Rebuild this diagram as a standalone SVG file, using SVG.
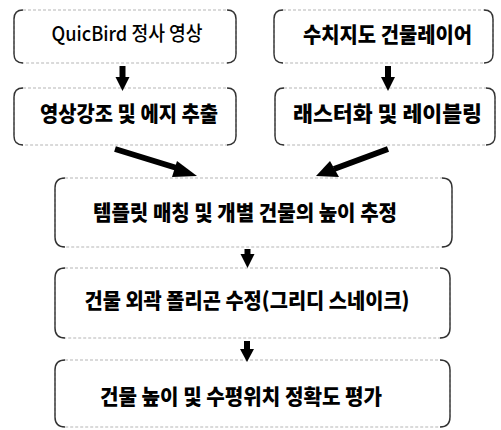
<svg xmlns="http://www.w3.org/2000/svg" width="501" height="430" viewBox="0 0 501 430">
<style>
.frame{fill:none;stroke:#b5b5b5;stroke-width:1;stroke-dasharray:3 2}
.side{fill:none;stroke:#333;stroke-width:1.4}
.t{font-family:"Noto Sans CJK KR","Noto Sans",sans-serif;font-weight:900;font-size:21px;fill:#000;text-anchor:middle}
.tn{font-weight:500;font-size:20px}
.arr{stroke:#000;stroke-width:6;fill:none}
.head{fill:#000}
</style>
<rect width="501" height="430" fill="#fff"/>
<g id="n1">
<rect class="frame" x="14" y="10" width="222" height="53" rx="9"/>
<path class="side" d="M23,10 Q14,10 14,19 V54 Q14,63 23,63 M227,10 Q236,10 236,19 V54 Q236,63 227,63"/>
<text class="t tn" x="127" y="41" textLength="151" lengthAdjust="spacingAndGlyphs">QuicBird 정사 영상</text>
</g>
<g id="n2">
<rect class="frame" x="274" y="10" width="219" height="53" rx="9"/>
<path class="side" d="M283,10 Q274,10 274,19 V54 Q274,63 283,63 M484,10 Q493,10 493,19 V54 Q493,63 484,63"/>
<text class="t" x="387.5" y="42" textLength="169" lengthAdjust="spacingAndGlyphs">수치지도 건물레이어</text>
</g>
<g id="n3">
<rect class="frame" x="14" y="88" width="222" height="57" rx="9"/>
<path class="side" d="M23,88 Q14,88 14,97 V136 Q14,145 23,145 M227,88 Q236,88 236,97 V136 Q236,145 227,145"/>
<text class="t" x="129" y="121" textLength="178" lengthAdjust="spacingAndGlyphs">영상강조 및 에지 추출</text>
</g>
<g id="n4">
<rect class="frame" x="275" y="88" width="220" height="57" rx="9"/>
<path class="side" d="M284,88 Q275,88 275,97 V136 Q275,145 284,145 M486,88 Q495,88 495,97 V136 Q495,145 486,145"/>
<text class="t" x="387.5" y="121" textLength="189" lengthAdjust="spacingAndGlyphs">래스터화 및 레이블링</text>
</g>
<g id="n5">
<rect class="frame" x="55" y="178" width="397" height="69" rx="10"/>
<path class="side" d="M65,178 Q55,178 55,188 V237 Q55,247 65,247 M442,178 Q452,178 452,188 V237 Q452,247 442,247"/>
<text class="t" x="245" y="220" textLength="304" lengthAdjust="spacingAndGlyphs">템플릿 매칭 및 개별 건물의 높이 추정</text>
</g>
<g id="n6">
<rect class="frame" x="55" y="268" width="395" height="70" rx="10"/>
<path class="side" d="M65,268 Q55,268 55,278 V328 Q55,338 65,338 M440,268 Q450,268 450,278 V328 Q450,338 440,338"/>
<text class="t" x="247" y="308" textLength="325" lengthAdjust="spacingAndGlyphs">건물 외곽 폴리곤 수정(그리디 스네이크)</text>
</g>
<g id="n7">
<rect class="frame" x="55" y="360" width="395" height="67" rx="10"/>
<path class="side" d="M65,360 Q55,360 55,370 V417 Q55,427 65,427 M440,360 Q450,360 450,370 V417 Q450,427 440,427"/>
<text class="t" x="241" y="404" textLength="282" lengthAdjust="spacingAndGlyphs">건물 높이 및 수평위치 정확도 평가</text>
</g>
<g id="connectors">
<line class="arr" x1="122.5" y1="66" x2="122.5" y2="78"/>
<polygon class="head" points="115.5,77 129.5,77 122.5,91"/>
<line class="arr" x1="388" y1="66" x2="388" y2="78"/>
<polygon class="head" points="381,77 395,77 388,91"/>
<line class="arr" x1="115" y1="149" x2="180" y2="169"/>
<polygon class="head" points="177,161 197,176 172,177"/>
<line class="arr" x1="388" y1="149" x2="334" y2="169"/>
<polygon class="head" points="330,161 316,176 339,177"/>
<line class="arr" x1="247.5" y1="249" x2="247.5" y2="256"/>
<polygon class="head" points="240.5,254 254.5,254 247.5,268"/>
<line class="arr" x1="247" y1="341" x2="247" y2="350"/>
<polygon class="head" points="240,349 254,349 247,362"/>
</g>
</svg>
